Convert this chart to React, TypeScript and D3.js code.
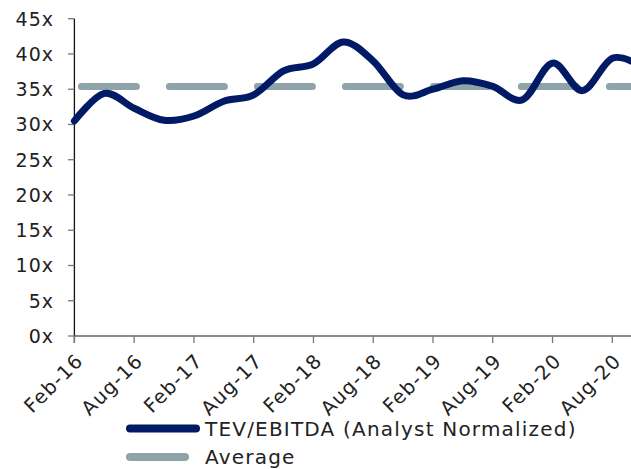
import React, { useEffect, useRef } from 'react';
import * as d3 from 'd3';

// quarterly observations, Feb-16 .. Nov-20 (last one runs off the right edge)
const quarters = [
  'Feb-16', 'May-16', 'Aug-16', 'Nov-16',
  'Feb-17', 'May-17', 'Aug-17', 'Nov-17',
  'Feb-18', 'May-18', 'Aug-18', 'Nov-18',
  'Feb-19', 'May-19', 'Aug-19', 'Nov-19',
  'Feb-20', 'May-20', 'Aug-20', 'Nov-20',
];
const tevEbitda = [
  30.5, 34.4, 32.3, 30.6,
  31.2, 33.3, 34.2, 37.6,
  38.6, 41.7, 39.0, 34.2,
  35.0, 36.2, 35.4, 33.5,
  38.7, 34.8, 39.4, 38.2,
];
const average = 35.4;
const yTicks = [0, 5, 10, 15, 20, 25, 30, 35, 40, 45];
const tickLabels = quarters.filter((_, i) => i % 2 === 0 && i < 19);

const NAVY = '#001a66';
const GRAY = '#8fa4a8';
const FONT = '"DejaVu Sans", sans-serif';

export default function App() {
  const svgRef = useRef<SVGSVGElement>(null);

  useEffect(() => {
    if (!svgRef.current) return;
    const svg = d3.select(svgRef.current);
    svg.selectAll('*').remove();

    const width = 631;
    const height = 469;

    const step = (612.3 - 74.4) / 18;
    const x = d3.scalePoint<string>()
      .domain(quarters)
      .range([74.4, 74.4 + step * (quarters.length - 1)]);

    const y = d3.scaleLinear().domain([0, 45]).range([336, 18.7]);

    svg.append('defs').append('clipPath').attr('id', 'plot-clip')
      .append('rect').attr('x', 0).attr('y', 0).attr('width', width).attr('height', height);

    // y axis
    const yAxis = svg.append('g');
    yAxis.append('line')
      .attr('x1', 74.4).attr('x2', 74.4)
      .attr('y1', y(45)).attr('y2', y(0) + 7)
      .attr('stroke', '#111').attr('stroke-width', 1.3);
    yAxis.selectAll('.ytick')
      .data(yTicks)
      .join('line')
      .attr('class', 'ytick')
      .attr('x1', 68).attr('x2', 74.4)
      .attr('y1', d => y(d)).attr('y2', d => y(d))
      .attr('stroke', '#777').attr('stroke-width', 1.3);
    yAxis.selectAll('.ylabel')
      .data(yTicks)
      .join('text')
      .attr('class', 'ylabel')
      .attr('x', 54)
      .attr('y', d => y(d))
      .attr('dy', '0.36em')
      .attr('text-anchor', 'end')
      .attr('font-family', FONT)
      .attr('font-size', 19)
      .attr('letter-spacing', 1)
      .attr('fill', '#222')
      .text(d => `${d}x`);

    // x axis
    const xAxis = svg.append('g');
    xAxis.append('line')
      .attr('x1', 74.4).attr('x2', width)
      .attr('y1', y(0)).attr('y2', y(0))
      .attr('stroke', '#666').attr('stroke-width', 1.3);
    xAxis.selectAll('.xtick')
      .data(tickLabels)
      .join('line')
      .attr('class', 'xtick')
      .attr('x1', d => x(d)!).attr('x2', d => x(d)!)
      .attr('y1', y(0)).attr('y2', y(0) + 7)
      .attr('stroke', '#777').attr('stroke-width', 1.3);
    xAxis.selectAll('.xlabel')
      .data(tickLabels)
      .join('text')
      .attr('class', 'xlabel')
      .attr('transform', d => `translate(${x(d)! + 10},${y(0) + 26}) rotate(-45)`)
      .attr('text-anchor', 'end')
      .attr('font-family', FONT)
      .attr('font-size', 19.5)
      .attr('letter-spacing', 1.2)
      .attr('fill', '#222')
      .text(d => d);

    const plot = svg.append('g').attr('clip-path', 'url(#plot-clip)');

    // average (dashed)
    plot.append('line')
      .attr('x1', x(quarters[0])!).attr('x2', x(quarters[quarters.length - 1])!)
      .attr('y1', y(average)).attr('y2', y(average))
      .attr('stroke', GRAY)
      .attr('stroke-width', 7)
      .attr('stroke-linecap', 'round')
      .attr('stroke-dasharray', '55 33')
      .attr('stroke-dashoffset', -7);

    // TEV/EBITDA line
    const line = d3.line<number>()
      .x((_, i) => x(quarters[i])!)
      .y(d => y(d))
      .curve(d3.curveCatmullRom.alpha(0));

    plot.append('path')
      .datum(tevEbitda)
      .attr('d', line)
      .attr('fill', 'none')
      .attr('stroke', NAVY)
      .attr('stroke-width', 7)
      .attr('stroke-linecap', 'round')
      .attr('stroke-linejoin', 'round');

    // legend
    const legend = [
      { label: 'TEV/EBITDA (Analyst Normalized)', color: NAVY, x2: 200, y: 428.5 },
      { label: 'Average', color: GRAY, x2: 189, y: 457 },
    ];
    const lg = svg.append('g');
    lg.selectAll('.lgline')
      .data(legend)
      .join('line')
      .attr('class', 'lgline')
      .attr('x1', 130).attr('x2', d => d.x2 - 4)
      .attr('y1', d => d.y).attr('y2', d => d.y)
      .attr('stroke', d => d.color)
      .attr('stroke-width', 8)
      .attr('stroke-linecap', 'round');
    lg.selectAll('.lgtext')
      .data(legend)
      .join('text')
      .attr('class', 'lgtext')
      .attr('x', 205)
      .attr('y', d => d.y)
      .attr('dy', '0.36em')
      .attr('font-family', FONT)
      .attr('font-size', 20)
      .attr('letter-spacing', 1.2)
      .attr('fill', '#222')
      .text(d => d.label);
  }, []);

  return (
    <svg
      ref={svgRef}
      width={631}
      height={469}
      viewBox="0 0 631 469"
      style={{ position: 'absolute', left: 0, top: 0, background: '#fff' }}
    />
  );
}
